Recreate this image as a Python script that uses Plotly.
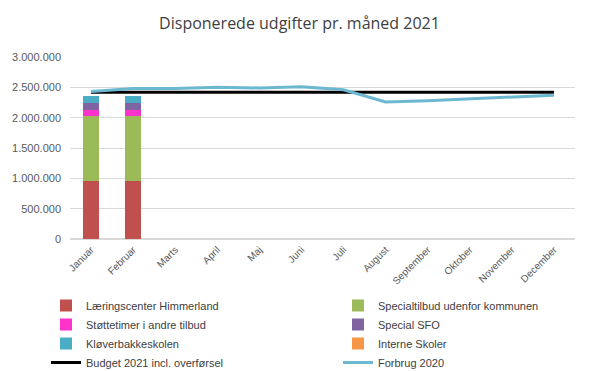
import plotly.graph_objects as go

months = ["Januar", "Februar", "Marts", "April", "Maj", "Juni", "Juli",
          "August", "September", "Oktober", "November", "December"]

laeringscenter = [950000, 950000] + [None] * 10
specialtilbud = [1080000, 1080000] + [None] * 10
stoettetimer = [100000, 100000] + [None] * 10
special_sfo = [120000, 120000] + [None] * 10
kloeverbakke = [100000, 100000] + [None] * 10
interne_skoler = [0, 0] + [None] * 10
budget_2021 = [2420000] * 12
forbrug_2020 = [2430000, 2480000, 2480000, 2500000, 2490000, 2510000,
                2460000, 2260000, 2280000, 2310000, 2330000, 2370000]

# name, values, colour, legend column
bar_series = [
    ("Læringscenter Himmerland", laeringscenter, "#C0504D", "legend"),
    ("Specialtilbud udenfor kommunen", specialtilbud, "#9BBB59", "legend2"),
    ("Støttetimer i andre tilbud", stoettetimer, "#FF33CC", "legend"),
    ("Special SFO", special_sfo, "#8064A2", "legend2"),
    ("Kløverbakkeskolen", kloeverbakke, "#4BACC6", "legend"),
    ("Interne Skoler", interne_skoler, "#F79646", "legend2"),
]

W, H = 583, 363

fig = go.Figure()
for name, vals, col, lg in bar_series:
    fig.add_trace(go.Bar(x=months, y=vals, name=name, marker_color=col,
                         marker_line_width=0, legend=lg))
fig.add_trace(go.Scatter(x=months, y=budget_2021, name="Budget 2021 incl. overførsel",
                         mode="lines", line=dict(color="#000000", width=3), legend="legend"))
fig.add_trace(go.Scatter(x=months, y=forbrug_2020, name="Forbrug 2020",
                         mode="lines", line=dict(color="#6BB8D0", width=3), legend="legend2"))

legend_common = dict(orientation="v", xref="container", yref="container",
                     xanchor="left", yanchor="top", y=1 - 283 / H,
                     font=dict(size=11, color="#404040", family="Liberation Sans, Arial, sans-serif"),
                     itemwidth=30, tracegroupgap=0, traceorder="normal",
                     bgcolor="rgba(0,0,0,0)")

fig.update_layout(
    width=W, height=H,
    barmode="stack", bargap=0.62,
    separators=",.",
    paper_bgcolor="white", plot_bgcolor="white",
    font=dict(family="Liberation Sans, Arial, sans-serif", color="#595959", size=11),
    title=dict(text="Disponerede udgifter pr. måned 2021", x=0.5, xanchor="center",
               y=1 - 15 / H, yanchor="middle",
               font=dict(size=16, color="#404040", family="Open Sans, sans-serif")),
    margin=dict(l=62, r=16, t=49, b=132, autoexpand=False),
    showlegend=True,
    legend=dict(legend_common, x=38 / W),
    legend2=dict(legend_common, x=330 / W),
)
fig.update_xaxes(showgrid=False, tickangle=-45, showline=True, linecolor="#d9d9d9",
                 ticks="", tickfont=dict(size=10, color="#595959"))
fig.update_yaxes(range=[0, 3000000], dtick=500000, tickformat=",d",
                 showgrid=True, gridcolor="#d9d9d9", zeroline=True,
                 zerolinecolor="#d9d9d9", ticks="", ticklabelstandoff=8,
                 tickfont=dict(size=11, color="#595959"))

fig.write_html("out.html")
